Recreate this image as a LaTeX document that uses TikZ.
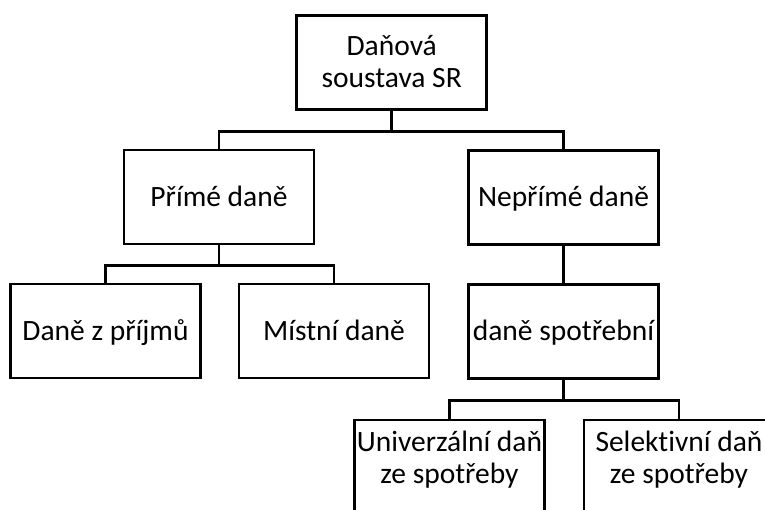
\documentclass[tikz,border=0pt]{standalone}
\usepackage{fontspec}
\setmainfont{Carlito}[Ligatures=NoCommon]
\usepackage{xcolor}

\begin{document}
\begin{tikzpicture}[x=1pt,y=1pt,
  box/.style={draw=drawColor,line width=2.8pt,minimum width=190pt,minimum height=94pt,
    inner sep=0pt,align=center,font=\fontsize{29.5}{32}\selectfont,
    text height=18.6pt,text depth=0pt},
  twolines/.style={text height=50.6pt},
  lowtext/.style={text depth=17.4pt},
  conn/.style={draw=drawColor,line width=2.8pt}]
\definecolor{fillColor}{RGB}{255,255,255}
\definecolor{drawColor}{RGB}{0,0,0}
\path[use as bounding box,fill=fillColor] (0,0) rectangle (765,509);
\begin{scope}
\path[clip] (0,0) rectangle (765,509);

\node[box,twolines] (soustava) at (391.7,446.7) {Daňová\\soustava SR};

\node[box] (prime) at (219.0,312.0) {Přímé daně};

\node[box] (neprime) at (563.5,311.5) {Nepřímé daně};

\node[box] (prijmy) at (105.5,178.0) {Daně z příjmů};

\node[box] (mistni) at (334.0,178.0) {Místní daně};

\node[box] (spotrebni) at (563.5,177.5) {daně spotřební};

\node[box,twolines,lowtext] (univerzalni) at (449.5,42.0) {Univerzální daň\\ze spotřeby};

\node[box,twolines,lowtext] (selektivni) at (679.0,42.0) {Selektivní daň\\ze spotřeby};

\path[conn] (soustava.south) -- ++(0,-20.5) -| (prime.north);

\path[conn] (soustava.south) -- ++(0,-20.5) -| (neprime.north);

\path[conn] (prime.south) -- ++(0,-20) -| (prijmy.north);

\path[conn] (prime.south) -- ++(0,-20) -| (mistni.north);

\path[conn] (neprime.south) -- (spotrebni.north);

\path[conn] (spotrebni.south) -- ++(0,-20.5) -| (univerzalni.north);

\path[conn] (spotrebni.south) -- ++(0,-20.5) -| (selektivni.north);
\end{scope}
\end{tikzpicture}
\end{document}
